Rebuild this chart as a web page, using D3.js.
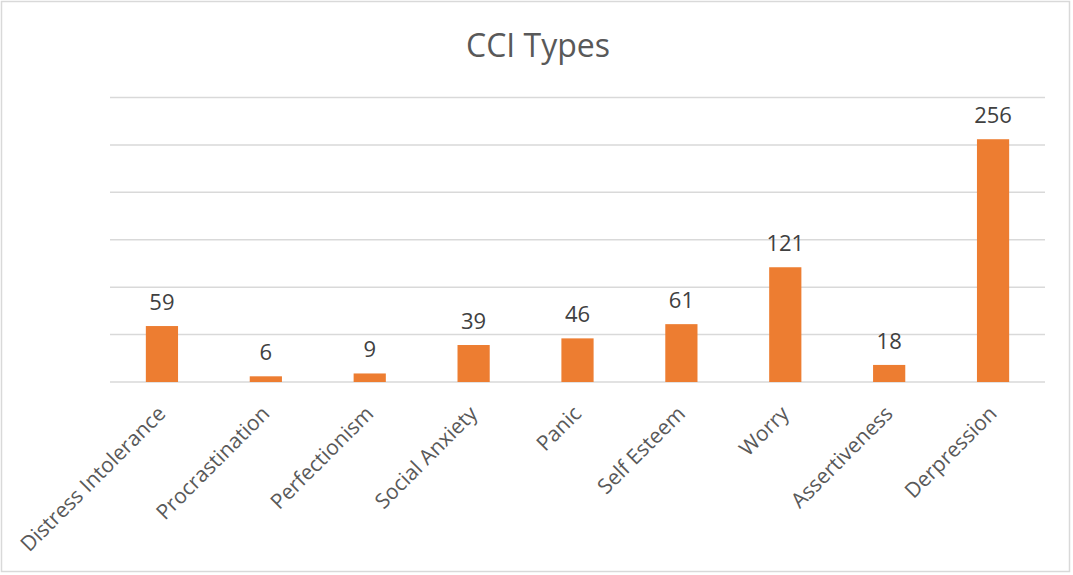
<!DOCTYPE html>
<html><head><meta charset="utf-8">
<script src="https://cdn.jsdelivr.net/npm/d3@7"></script>
<style>html,body{margin:0;padding:0;background:#fff;}svg{display:block;}</style>
</head><body>
<svg id="c" width="1073" height="575"></svg>
<script>
const categories = ["Distress Intolerance","Procrastination","Perfectionism","Social Anxiety","Panic","Self Esteem","Worry","Assertiveness","Derpression"];
const values = [59,6,9,39,46,61,121,18,256];
const yTicks = [0,50,100,150,200,250,300];
const title = "CCI Types";

const svg = d3.select("#c");
const font = "'Open Sans', 'Segoe UI', sans-serif";
svg.append("rect").attr("x",1.5).attr("y",1.5).attr("width",1068).attr("height",570)
  .attr("fill","#fff").attr("stroke","#d9d9d9").attr("stroke-width",1.5);

const x = d3.scaleBand().domain(categories).range([110,1045]).paddingInner(0.69).paddingOuter(0.345);
const y = d3.scaleLinear().domain([0,300]).range([382,97.5]);

svg.append("text").attr("x",538).attr("y",57).attr("text-anchor","middle")
  .attr("font-family",font).attr("font-size",32).attr("fill","#595959").text(title);

svg.append("g").selectAll("line").data(yTicks).join("line")
  .attr("x1",110).attr("x2",1045).attr("y1",d=>y(d)).attr("y2",d=>y(d))
  .attr("stroke","#d9d9d9").attr("stroke-width",1.5);

svg.append("g").selectAll("rect").data(values).join("rect")
  .attr("x",(d,i)=>x(categories[i])).attr("width",x.bandwidth())
  .attr("y",d=>y(d)).attr("height",d=>y(0)-y(d)).attr("fill","#ED7D31");

svg.append("g").selectAll("text").data(values).join("text")
  .attr("x",(d,i)=>x(categories[i])+x.bandwidth()/2).attr("y",d=>y(d)-16)
  .attr("text-anchor","middle").attr("font-family",font).attr("font-size",22).attr("fill","#404040")
  .text(d=>d);

svg.append("g").selectAll("text").data(categories).join("text")
  .attr("transform",d=>`translate(${x(d)+x.bandwidth()/2+5},415) rotate(-45)`)
  .attr("text-anchor","end").attr("font-family",font).attr("font-size",21).attr("fill","#595959")
  .text(d=>d);
</script>
</body></html>
